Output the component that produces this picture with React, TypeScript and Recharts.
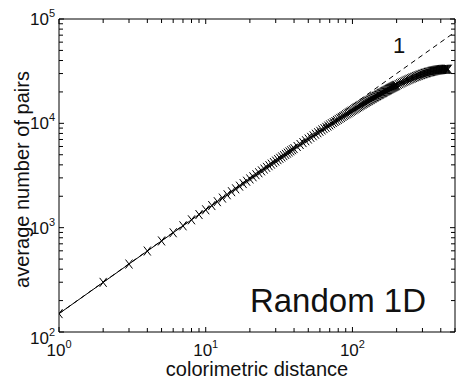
import React from 'react';
import { ComposedChart, Line, XAxis, YAxis } from 'recharts';

// colorimetric distance (x) and average number of pairs (y)
const distance = [
  1, 2, 3, 4, 5, 6, 7, 8, 9, 10, 11, 12, 13, 14, 15, 16, 17, 18, 19, 20,
  21, 22, 23, 24, 25, 26, 27, 28, 29, 30, 31, 32, 33, 34, 35, 36, 37, 38, 39, 40,
  42, 44, 46, 48, 50, 52, 54, 56, 58, 60, 62, 64, 66, 68, 70, 72, 74, 76, 78, 80,
  82, 84, 86, 88, 90, 92, 94, 96, 98, 100,
  102, 104, 106, 108, 110, 112, 114, 116, 118, 120, 122, 124, 126, 128, 130, 132, 134, 136, 138, 140,
  142, 144, 146, 148, 150, 152, 154, 156, 158, 160, 162, 164, 166, 168, 170, 172, 174, 176, 178, 180,
  182, 184, 186, 188, 190, 192, 194, 196, 198, 200,
  205, 210, 215, 220, 225, 230, 235, 240, 245, 250, 255, 260, 265, 270, 275, 280, 285, 290, 295, 300,
  305, 310, 315, 320, 325, 330, 335, 340, 345, 350, 355, 360, 365, 370, 375, 380, 385, 390, 395, 400,
  405, 410, 415, 420, 425, 430, 435, 440, 445, 450,
];
const pairs = [
  150, 299, 448, 597, 746, 894, 1042, 1189, 1336, 1483, 1629, 1775, 1921, 2067, 2212, 2356, 2501, 2645, 2788, 2932,
  3075, 3218, 3360, 3502, 3643, 3785, 3926, 4066, 4207, 4347, 4486, 4625, 4764, 4903, 5041, 5179, 5317, 5454, 5591, 5727,
  5999, 6270, 6539, 6807, 7074, 7339, 7603, 7865, 8127, 8386, 8645, 8902, 9158, 9412, 9665, 9916, 10167, 10415, 10663, 10909,
  11154, 11397, 11639, 11880, 12119, 12357, 12594, 12829, 13063, 13295,
  13527, 13756, 13985, 14212, 14438, 14662, 14885, 15106, 15327, 15545, 15763, 15979, 16194, 16407, 16619, 16830, 17039, 17247, 17454, 17659,
  17863, 18065, 18267, 18466, 18665, 18862, 19058, 19252, 19445, 19636, 19827, 20015, 20203, 20389, 20574, 20757, 20939, 21120, 21299, 21477,
  21654, 21829, 22003, 22175, 22347, 22516, 22685, 22852, 23018, 23182,
  23587, 23983, 24371, 24750, 25121, 25483, 25837, 26182, 26518, 26847, 27166, 27477, 27780, 28074, 28359, 28636, 28905, 29165, 29416, 29659,
  29893, 30119, 30337, 30545, 30746, 30938, 31121, 31295, 31462, 31619, 31768, 31909, 32041, 32165, 32280, 32386, 32484, 32574, 32655, 32727,
  32791, 32847, 32893, 32932, 32962, 32983, 32996, 33000, 32996, 32983,
];

// slope-1 guide line
const slopeX = [1, 500];
const slopeY = [150, 75000];

const xDecades = [1, 10, 100];
const xMinors = [2, 3, 4, 5, 6, 7, 8, 9, 20, 30, 40, 50, 60, 70, 80, 90, 200, 300, 400, 500];
const yDecades = [100, 1000, 10000, 100000];
const yMinors = [
  200, 300, 400, 500, 600, 700, 800, 900, 2000, 3000, 4000, 5000, 6000, 7000, 8000, 9000,
  20000, 30000, 40000, 50000, 60000, 70000, 80000, 90000,
];

const points = distance.map((d, i) => ({ d, n: pairs[i] }));
const slope = slopeX.map((d, i) => ({ d, n: slopeY[i] }));

const FONT = '"Liberation Sans", Arial, Helvetica, sans-serif';
const INK = '#111';

const pow = (v: number) => Math.round(Math.log10(v));

const BottomTick = (p: any) => {
  const v = p.payload.value;
  const major = xDecades.includes(v);
  return (
    <g>
      <line x1={p.x} x2={p.x} y1={p.y} y2={p.y - (major ? 5 : 4)} stroke="#000" />
      {major && (
        <text x={p.x} y={p.y + 24} textAnchor="middle" fontFamily={FONT} fontSize={17} fill={INK}>
          10<tspan dy={-8} fontSize={11}>{pow(v)}</tspan>
        </text>
      )}
    </g>
  );
};

const TopTick = (p: any) => {
  const major = xDecades.includes(p.payload.value);
  return <line x1={p.x} x2={p.x} y1={p.y} y2={p.y + (major ? 5 : 4)} stroke="#000" />;
};

const LeftTick = (p: any) => {
  const v = p.payload.value;
  const major = yDecades.includes(v);
  // the lowest label sits a little lower, as in the original
  const dy = v === yDecades[0] ? 12 : 6;
  return (
    <g>
      <line x1={p.x} x2={p.x + (major ? 5 : 4)} y1={p.y} y2={p.y} stroke="#000" />
      {major && (
        <text x={p.x - 4} y={p.y + dy} textAnchor="end" fontFamily={FONT} fontSize={17} fill={INK}>
          10<tspan dy={-8} fontSize={11}>{pow(v)}</tspan>
        </text>
      )}
    </g>
  );
};

const RightTick = (p: any) => {
  const major = yDecades.includes(p.payload.value);
  return <line x1={p.x} x2={p.x - (major ? 5 : 4)} y1={p.y} y2={p.y} stroke="#000" />;
};

const Cross = (p: any) => {
  if (p.cx == null || p.cy == null) return null;
  const { cx, cy } = p;
  return (
    <path
      key={`c-${p.index}`}
      d={`M${cx - 3.5},${cy - 4.5}L${cx + 3.5},${cy + 4.5}M${cx - 3.5},${cy + 4.5}L${cx + 3.5},${cy - 4.5}`}
      stroke="#000"
      strokeWidth={1}
      fill="none"
    />
  );
};

const XTitle = (p: any) => {
  const vb = p.viewBox || { x: 59, y: 332, width: 396, height: 48 };
  return (
    <text x={vb.x + vb.width / 2} y={vb.y + 44} textAnchor="middle" fontFamily={FONT} fontSize={20} fill={INK}>
      colorimetric distance
    </text>
  );
};

const YTitle = (p: any) => {
  const vb = p.viewBox || { x: 0, y: 19, width: 59, height: 313 };
  const cx = vb.x + 29;
  const cy = vb.y + vb.height / 2 + 4;
  return (
    <text x={cx} y={cy} transform={`rotate(-90 ${cx} ${cy})`} textAnchor="middle" fontFamily={FONT} fontSize={20} fill={INK}>
      average number of pairs
    </text>
  );
};

export default function App() {
  const xTicks = [...xDecades, ...xMinors].sort((a, b) => a - b);
  const yTicks = [...yDecades, ...yMinors].sort((a, b) => a - b);
  return (
    <div style={{ position: 'relative', width: 459, height: 380, background: '#fff' }}>
      <style>{'body{margin:0}'}</style>
      <ComposedChart width={459} height={380} margin={{ top: 0, right: 0, bottom: 0, left: 0 }}>
        <XAxis
          xAxisId="b"
          dataKey="d"
          type="number"
          scale="log"
          domain={[1, 500]}
          allowDataOverflow
          ticks={xTicks}
          interval={0}
          tickSize={0}
          tickMargin={0}
          tickLine={false}
          tick={BottomTick}
          height={48}
          axisLine={{ stroke: '#000' }}
          label={{ content: XTitle }}
        />
        <XAxis
          xAxisId="t"
          orientation="top"
          dataKey="d"
          type="number"
          scale="log"
          domain={[1, 500]}
          allowDataOverflow
          ticks={xTicks}
          interval={0}
          tickSize={0}
          tickMargin={0}
          tickLine={false}
          tick={TopTick}
          height={19}
          axisLine={{ stroke: '#000' }}
        />
        <YAxis
          yAxisId="l"
          type="number"
          scale="log"
          domain={[100, 100000]}
          allowDataOverflow
          ticks={yTicks}
          interval={0}
          tickSize={0}
          tickMargin={0}
          tickLine={false}
          tick={LeftTick}
          width={59}
          axisLine={{ stroke: '#000' }}
          label={{ content: YTitle }}
        />
        <YAxis
          yAxisId="r"
          orientation="right"
          type="number"
          scale="log"
          domain={[100, 100000]}
          allowDataOverflow
          ticks={yTicks}
          interval={0}
          tickSize={0}
          tickMargin={0}
          tickLine={false}
          tick={RightTick}
          width={4}
          axisLine={{ stroke: '#000' }}
        />
        <Line
          xAxisId="b"
          yAxisId="l"
          data={slope}
          dataKey="n"
          stroke="#000"
          strokeWidth={1}
          strokeDasharray="5 4"
          dot={false}
          isAnimationActive={false}
        />
        <Line
          xAxisId="b"
          yAxisId="l"
          data={points}
          dataKey="n"
          stroke="#000"
          strokeWidth={1}
          dot={Cross}
          isAnimationActive={false}
        />
      </ComposedChart>
      <svg width={459} height={380} style={{ position: 'absolute', left: 0, top: 0, pointerEvents: 'none' }}>
        <text x={399} y={53} textAnchor="middle" fontFamily={FONT} fontSize={22} fill={INK}>1</text>
        <text x={426} y={312} textAnchor="end" fontFamily={FONT} fontSize={33} fill={INK}>Random 1D</text>
      </svg>
    </div>
  );
}
